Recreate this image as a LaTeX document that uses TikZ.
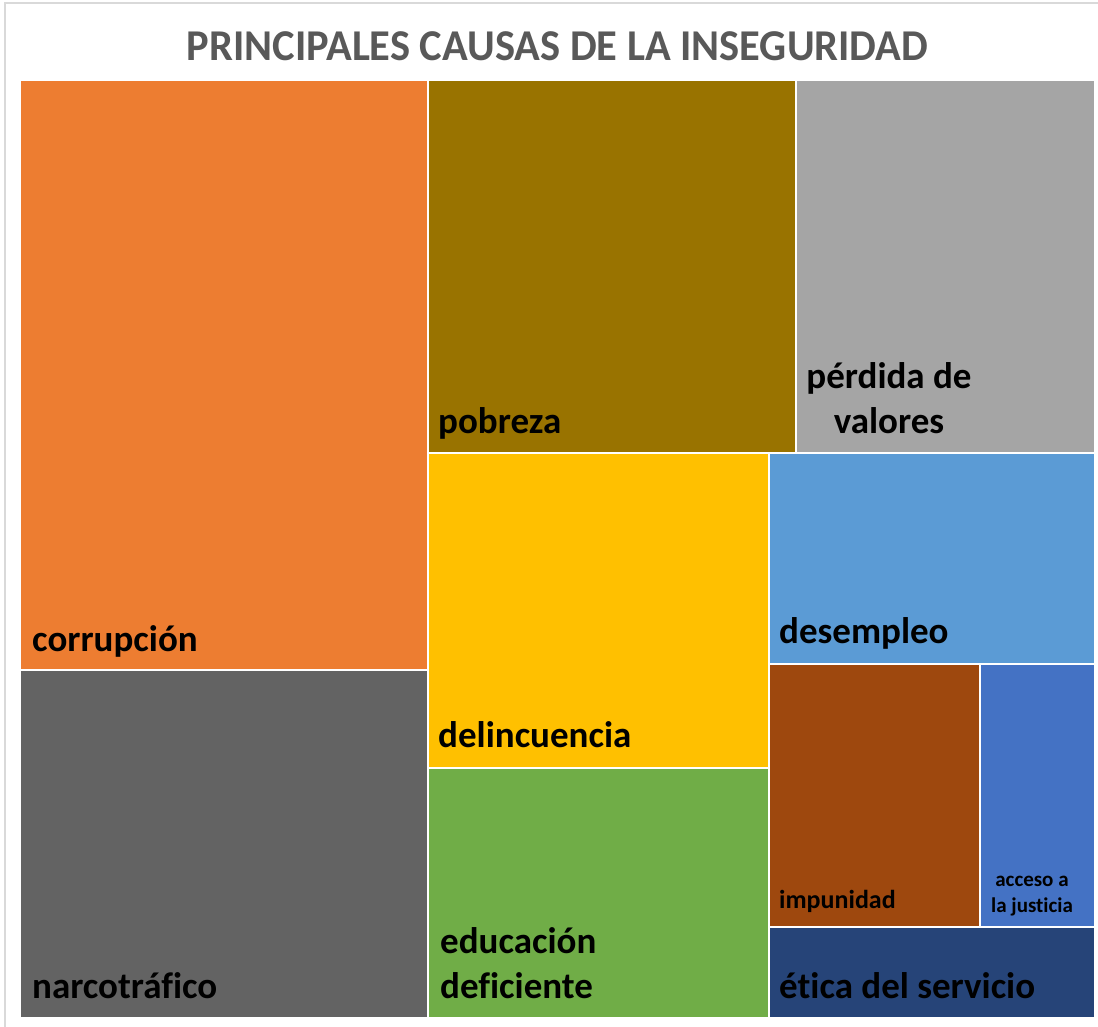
\documentclass[tikz,border=0pt]{standalone}
\usepackage{fontspec}
\setmainfont{Carlito}[Ligatures={NoCommon}]
\definecolor{cOrange}{HTML}{ED7D31}
\definecolor{cOlive}{HTML}{997300}
\definecolor{cGray}{HTML}{A5A5A5}
\definecolor{cYellow}{HTML}{FFC000}
\definecolor{cBlue}{HTML}{5B9BD5}
\definecolor{cGreen}{HTML}{70AD47}
\definecolor{cDark}{HTML}{636363}
\definecolor{cBrown}{HTML}{9E480E}
\definecolor{cRoyal}{HTML}{4472C4}
\definecolor{cNavy}{HTML}{264478}
\definecolor{cTitle}{HTML}{595959}
\definecolor{cFrame}{HTML}{D9D9D9}
\begin{document}
\begin{tikzpicture}[x=1pt,y=-1pt,
  big/.style={anchor=base west,inner sep=0pt,font=\bfseries\fontsize{37}{45}\selectfont,text=black},
  bigc/.style={anchor=base,inner sep=0pt,align=center,font=\bfseries\fontsize{37}{45}\selectfont,text=black},
  mid/.style={anchor=base west,inner sep=0pt,font=\bfseries\fontsize{26}{32}\selectfont,text=black},
  small/.style={anchor=base,inner sep=0pt,align=center,font=\bfseries\fontsize{21}{25.5}\selectfont,text=black}]
\useasboundingbox (0,0) rectangle (1098,1026);
\fill[white] (0,0) rectangle (1098,1026);
\draw[cFrame,line width=1.2pt] (5,1030) -- (5,3) -- (1102,3);
\node[inner sep=0pt,anchor=base,text=cTitle,font=\bfseries\fontsize{44}{50}\selectfont] (title) at (557.5,60) {\scalebox{0.965}[1]{PRINCIPALES CAUSAS DE LA INSEGURIDAD}};
% cells
\fill[cOrange] (21,81) rectangle (426.5,669);
\fill[cDark] (21,671) rectangle (426.5,1017);
\fill[cOlive] (428.5,81) rectangle (794.5,452);
\fill[cGray] (796.5,81) rectangle (1093.5,452);
\fill[cYellow] (428.5,454) rectangle (767.5,766.5);
\fill[cGreen] (428.5,768.5) rectangle (767.5,1017);
\fill[cBlue] (769.5,454) rectangle (1093.5,662.5);
\fill[cBrown] (769.5,664.5) rectangle (979,925.5);
\fill[cRoyal] (981,664.5) rectangle (1093.5,925.5);
\fill[cNavy] (769.5,927.5) rectangle (1093.5,1017);
% labels
\node[big] (corr) at (32,651) {corrupción};
\node[big] (narco) at (32,998) {narcotráfico};
\node[big] (pob) at (438,433) {pobreza};
\node[bigc] (perd) at (889,433) {pérdida de\\valores};
\node[big] (delin) at (438,747) {delincuencia};
\node[bigc,anchor=base west,align=left] (edu) at (440,998) {educación\\deficiente};
\node[big] (desem) at (779,643) {desempleo};
\node[mid] (impu) at (779,908) {impunidad};
\node[small] (acc) at (1032,912) {acceso a\\la justicia};
\node[big] (etica) at (779,998) {ética del servicio};
\end{tikzpicture}
\end{document}
